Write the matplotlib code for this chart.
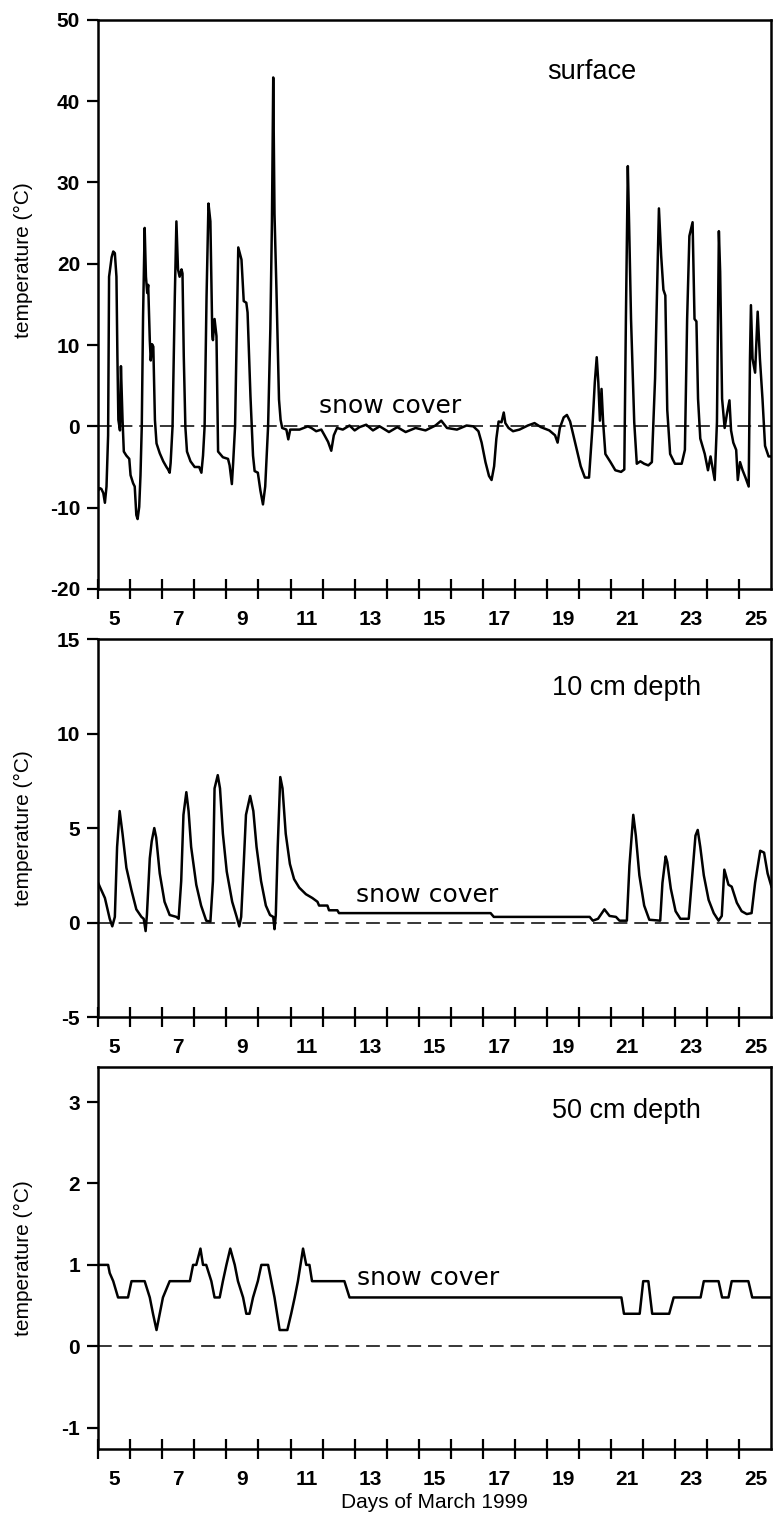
import matplotlib
matplotlib.use("Agg")
import matplotlib.pyplot as plt

plt.rcParams['font.family'] = ['Liberation Sans', 'DejaVu Sans']
plt.rcParams['axes.unicode_minus'] = False

# Superficie (día de marzo, °C)
dias_sup = [5.00, 5.05, 5.10, 5.16, 5.21, 5.26, 5.31, 5.34, 5.42, 5.47, 5.52, 5.57,
            5.60, 5.63, 5.68, 5.71, 5.76, 5.80, 5.88, 5.97, 6.01, 6.09, 6.14, 6.19,
            6.23, 6.28, 6.32, 6.36, 6.40, 6.45, 6.49, 6.53, 6.56, 6.61, 6.64, 6.68,
            6.72, 6.77, 6.82, 6.92, 7.03, 7.13, 7.18, 7.23, 7.26, 7.32, 7.39, 7.44,
            7.49, 7.54, 7.60, 7.63, 7.67, 7.72, 7.77, 7.88, 8.01, 8.15, 8.22, 8.27,
            8.32, 8.38, 8.44, 8.50, 8.56, 8.58, 8.63, 8.69, 8.74, 8.89, 9.05, 9.10,
            9.17, 9.21, 9.27, 9.33, 9.37, 9.47, 9.54, 9.62, 9.66, 9.75, 9.83, 9.88,
            9.98, 10.06, 10.14, 10.21, 10.30, 10.37, 10.42, 10.46, 10.50, 10.56,
            10.64, 10.69, 10.74, 10.87, 10.93, 10.99, 11.28, 11.54, 11.65, 11.80,
            11.96, 12.06, 12.17, 12.27, 12.35, 12.45, 12.63, 12.84, 13.00, 13.15,
            13.36, 13.57, 13.78, 14.07, 14.33, 14.59, 14.90, 15.21, 15.52, 15.70,
            15.88, 16.19, 16.49, 16.70, 16.86, 16.96, 17.08, 17.19, 17.27, 17.35,
            17.42, 17.49, 17.58, 17.65, 17.70, 17.80, 17.94, 18.14, 18.40, 18.61,
            18.81, 19.07, 19.25, 19.33, 19.40, 19.52, 19.62, 19.72, 19.90, 20.05,
            20.18, 20.31, 20.41, 20.49, 20.55, 20.60, 20.65, 20.70, 20.75, 20.82,
            20.98, 21.13, 21.31, 21.41, 21.46, 21.52, 21.56, 21.62, 21.72, 21.80,
            21.91, 22.03, 22.16, 22.27, 22.37, 22.44, 22.49, 22.56, 22.63, 22.69,
            22.75, 22.84, 22.99, 23.20, 23.30, 23.37, 23.44, 23.54, 23.60, 23.66,
            23.71, 23.78, 23.92, 24.02, 24.10, 24.23, 24.30, 24.36, 24.40, 24.46,
            24.54, 24.61, 24.69, 24.74, 24.81, 24.90, 24.95, 25.02, 25.10, 25.19,
            25.29, 25.33, 25.36, 25.41, 25.49, 25.57, 25.64, 25.72, 25.80, 25.91,
            26.00]
temp_sup = [-7.9, -7.6, -7.7, -8.2, -9.4, -7.4, -1.1, 18.4, 20.8, 21.5, 21.3, 18.4,
            8.6, 0.8, -0.5, 7.4, 0.8, -3.1, -3.6, -4.0, -6.0, -7.0, -7.4, -10.9,
            -11.4, -9.9, -6.0, 0.0, 13.5, 24.4, 18.4, 16.4, 17.4, 10.6, 8.1, 10.1,
            9.8, 0.8, -2.1, -3.3, -4.3, -5.0, -5.3, -5.7, -4.5, 0.0, 15.9, 25.2,
            19.3, 18.4, 19.3, 18.8, 8.6, -0.1, -3.1, -4.3, -5.0, -5.0, -5.7, -3.6,
            0.0, 15.9, 27.4, 25.2, 11.1, 10.6, 13.2, 11.1, -3.1, -3.8, -4.0, -4.8,
            -7.1, -4.5, 0.0, 13.5, 22.0, 20.5, 15.4, 15.2, 14.0, 3.7, -3.6, -5.5,
            -5.7, -7.9, -9.6, -7.4, 0.0, 12.0, 25.2, 42.9, 26.1, 16.9,
            3.3, 0.8, -0.2, -0.4, -1.6, -0.4, -0.4, 0.0, -0.2, -0.6,
            -0.4, -1.1, -1.9, -3.0, -1.1, -0.2, -0.4, 0.1, -0.5, -0.1,
            0.2, -0.5, 0.0, -0.7, -0.1, -0.7, -0.2, -0.5, 0.1, 0.7,
            -0.2, -0.4, 0.1, 0.0, -0.6, -2.0, -4.4, -6.1, -6.6, -4.9,
            -1.5, 0.6, 0.5, 1.7, 0.4, -0.2, -0.6, -0.4, 0.1, 0.4,
            -0.1, -0.5, -1.1, -2.0, -0.2, 1.1, 1.4, 0.6, -2.4, -4.9,
            -6.3, -6.3, -0.5, 5.4, 8.5, 5.4, 0.7, 4.6, 0.5, -3.4,
            -4.4, -5.4, -5.6, -5.3, 13.2, 32.0, 24.9, 13.2, 0.5, -4.6,
            -4.3, -4.6, -4.8, -4.4, 5.9, 18.0, 26.8, 21.0, 16.8, 16.1,
            2.0, -3.4, -4.6, -4.6, -2.9, 13.2, 23.4, 25.1, 13.2, 12.9,
            3.4, -1.5, -3.4, -5.4, -3.7, -6.6, 0.5, 24.0, 19.0, 3.4,
            -0.2, 1.5, 3.2, -0.5, -2.0, -2.9, -6.6, -4.4, -5.4, -6.3,
            -7.4, 8.3, 14.9, 8.3, 6.6, 14.1, 8.3, 3.4, -2.4, -3.7,
            -3.7]

# 10 cm de profundidad
dias_10 = [5.00, 5.05, 5.21, 5.36, 5.44, 5.52, 5.59, 5.67, 5.76, 5.88, 6.04, 6.19,
           6.35, 6.42, 6.48, 6.52, 6.61, 6.67, 6.75, 6.81, 6.92, 7.07, 7.23, 7.44,
           7.51, 7.59, 7.66, 7.75, 7.82, 7.90, 8.06, 8.21, 8.37, 8.50, 8.58, 8.63,
           8.73, 8.80, 8.89, 9.01, 9.18, 9.32, 9.40, 9.46, 9.54, 9.61, 9.74, 9.84,
           9.94, 10.08, 10.23, 10.36, 10.46, 10.50, 10.54, 10.60, 10.68, 10.75,
           10.85, 10.98, 11.11, 11.27, 11.48, 11.68, 11.84, 11.89, 12.15, 12.20,
           12.46, 12.51, 17.24, 17.34, 20.33, 20.43, 20.59, 20.79, 20.95, 21.15,
           21.26, 21.49, 21.57, 21.69, 21.77, 21.88, 22.03, 22.19, 22.53, 22.60,
           22.70, 22.75, 22.86, 23.01, 23.16, 23.42, 23.53, 23.63, 23.70, 23.78,
           23.89, 24.04, 24.20, 24.35, 24.45, 24.53, 24.66, 24.76, 24.92, 25.07,
           25.23, 25.38, 25.49, 25.65, 25.77, 25.88, 26.00]
temp_10 = [2.1, 1.9, 1.3, 0.2, -0.2, 0.3, 4.0, 5.9, 4.7, 2.9, 1.7, 0.7,
           0.3, 0.2, -0.45, 0.4, 3.4, 4.3, 5.0, 4.5, 2.6, 1.1, 0.4, 0.3,
           0.2, 2.2, 5.7, 6.9, 5.9, 4.0, 2.0, 0.9, 0.1, 0.05, 2.2, 7.1,
           7.8, 7.1, 4.7, 2.7, 1.1, 0.3, -0.2, 0.3, 3.1, 5.7, 6.7, 5.9,
           4.0, 2.2, 0.9, 0.4, 0.3, -0.35, 0.4, 4.0, 7.7, 7.1,
           4.7, 3.1, 2.3, 1.85, 1.5, 1.3, 1.1, 0.9, 0.9, 0.65,
           0.65, 0.5, 0.5, 0.3, 0.3, 0.1, 0.2, 0.7, 0.35, 0.3,
           0.1, 0.1, 3.0, 5.7, 4.6, 2.5, 0.9, 0.15, 0.1, 2.1,
           3.5, 3.2, 1.8, 0.6, 0.2, 0.2, 2.5, 4.6, 4.9, 4.0,
           2.5, 1.2, 0.5, 0.1, 0.35, 2.8, 2.0, 1.9, 1.05, 0.6,
           0.45, 0.5, 2.1, 3.8, 3.7, 2.6, 1.9]

# 50 cm de profundidad
dias_50 = [5.00, 5.31, 5.36, 5.47, 5.62, 5.93, 6.04, 6.45, 6.61, 6.71, 6.82, 6.92,
           7.02, 7.23, 7.86, 7.96, 8.06, 8.19, 8.27, 8.37, 8.53, 8.63, 8.79, 8.89,
           9.00, 9.12, 9.26, 9.36, 9.52, 9.62, 9.72, 9.83, 9.98, 10.09, 10.30,
           10.40, 10.50, 10.66, 10.90, 11.02, 11.13, 11.23, 11.31, 11.39, 11.49,
           11.59, 11.67, 12.68, 12.84, 21.32, 21.40, 21.89, 22.00, 22.16, 22.28,
           22.81, 22.95, 23.79, 23.89, 24.35, 24.46, 24.66, 24.76, 25.28, 25.40,
           26.00]
temp_50 = [1.0, 1.0, 0.9, 0.8, 0.6, 0.6, 0.8, 0.8, 0.6, 0.4, 0.2, 0.4,
           0.6, 0.8, 0.8, 1.0, 1.0, 1.2, 1.0, 1.0, 0.8, 0.6, 0.6, 0.8,
           1.0, 1.2, 1.0, 0.8, 0.6, 0.4, 0.4, 0.6, 0.8, 1.0, 1.0,
           0.8, 0.6, 0.2, 0.2, 0.4, 0.6, 0.8, 1.0, 1.2, 1.0,
           1.0, 0.8, 0.8, 0.6, 0.6, 0.4, 0.4, 0.8, 0.8, 0.4,
           0.4, 0.6, 0.6, 0.8, 0.8, 0.6, 0.6, 0.8, 0.8, 0.6,
           0.6]

dias_ticks = list(range(5, 26))
dias_etiquetas = [str(d) for d in range(5, 26, 2)]


def dibujar_panel(ax, dias, temp, ylim, yticks, titulo, pos_titulo, pos_nieve, y_etiqueta=0.5):
    ax.plot(dias, temp, color='black', lw=1.8)
    ax.axhline(0, color='black', lw=1.1, linestyle=(0, (9, 4.5)))
    ax.set_xlim(5, 26)
    ax.set_ylim(*ylim)
    ax.set_yticks(yticks)
    ax.set_yticklabels([str(v) for v in yticks])
    ax.set_xticks(dias_ticks)
    ax.set_xticklabels([''] * len(dias_ticks))
    ax.set_xticks([int(d) + 0.5 for d in dias_etiquetas], dias_etiquetas, minor=True)
    ax.tick_params(axis='x', which='major', direction='inout', length=15, width=1.6)
    ax.tick_params(axis='x', which='minor', length=0, pad=15, labelsize=15)
    ax.tick_params(axis='y', direction='out', length=8, width=1.6, pad=5, labelsize=15)
    for lab in ax.get_yticklabels() + ax.get_xticklabels(minor=True):
        lab.set_fontweight('bold')
    for sp in ax.spines.values():
        sp.set_linewidth(1.8)
    ax.set_ylabel('temperature (°C)', fontsize=15)
    ax.yaxis.set_label_coords(-0.097, y_etiqueta)
    ax.text(pos_titulo[0], pos_titulo[1], titulo, fontsize=19.5, va='baseline', ha='left')
    ax.text(pos_nieve[0], pos_nieve[1], 'snow cover', fontsize=18, va='baseline', ha='left',
            family=['DejaVu Sans'])


fig = plt.figure(figsize=(7.73, 15.18), dpi=100)
ax1 = fig.add_axes([0.127, 0.612, 0.871, 0.375])
ax2 = fig.add_axes([0.127, 0.330, 0.871, 0.249])
ax3 = fig.add_axes([0.127, 0.0455, 0.871, 0.2516])

dibujar_panel(ax1, dias_sup, temp_sup, (-20, 50), list(range(-20, 51, 10)),
              'surface', (19.0, 42.7), (11.9, 1.66), y_etiqueta=0.578)
dibujar_panel(ax2, dias_10, temp_10, (-5, 15), [-5, 0, 5, 10, 15],
              '10 cm depth', (19.15, 12.04), (13.05, 1.08))
dibujar_panel(ax3, dias_50, temp_50, (-1.26, 3.43), [-1, 0, 1, 2, 3],
              '50 cm depth', (19.15, 2.80), (13.08, 0.75))
ax3.set_xlabel('Days of March 1999', fontsize=15, labelpad=3)

fig.savefig('out.png', dpi=100)
